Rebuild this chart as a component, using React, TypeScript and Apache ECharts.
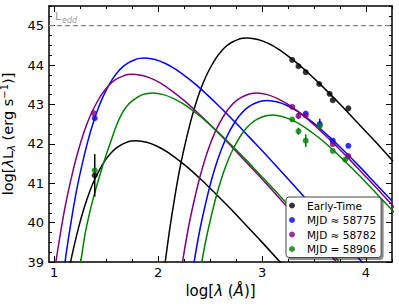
import React, { useEffect, useRef } from "react";
import * as echarts from "echarts";

// ---- axes ----
const X_MIN = 0.95;
const X_MAX = 4.25;
const Y_MIN = 39;
const Y_MAX = 45.5;
const X_MAJOR = [1, 2, 3, 4];
const X_MINOR = [1.25, 1.5, 1.75, 2.25, 2.5, 2.75, 3.25, 3.5, 3.75, 4.25];
const Y_MAJOR = [39, 40, 41, 42, 43, 44, 45];
const Y_MINOR = [39.25, 39.5, 39.75, 40.25, 40.5, 40.75, 41.25, 41.5, 41.75, 42.25, 42.5, 42.75, 43.25, 43.5, 43.75, 44.25, 44.5, 44.75, 45.25, 45.5];

// Eddington luminosity (log)
const L_EDD = 45;

// ---- legend names ----
const NAMES = ["Early-Time", "MJD \u2248 58775", "MJD \u2248 58782", "MJD = 58906"];
const COLORS = ["#000000", "#0000ff", "#800080", "#008000"];

// ---- observed points [log lambda, log lambda L] ----
const EARLY_PTS = [[1.39, 41.2], [3.29, 44.13], [3.35, 43.97], [3.42, 43.82], [3.55, 43.52], [3.65, 43.27], [3.68, 43.11], [3.83, 42.9]];
const BLUE_PTS = [[1.39, 42.65], [3.42, 42.77], [3.555, 42.5], [3.68, 42.08], [3.83, 41.95]];
const PURPLE_PTS = [[1.38, 42.78], [3.29, 42.94], [3.35, 42.71], [3.42, 42.72], [3.68, 41.99], [3.83, 41.69]];
const GREEN_PTS = [[1.39, 41.33], [3.29, 42.62], [3.35, 42.32], [3.42, 42.08], [3.555, 42.45], [3.68, 41.82], [3.8, 41.6]];

// ---- error bars [x, y, err] ----
const EARLY_ERR = [[1.39, 41.2, 0.54]];
const BLUE_ERR = [[3.555, 42.5, 0.14]];
const PURPLE_ERR = [[3.35, 42.71, 0.07]];
const GREEN_ERR = [[3.35, 42.32, 0.09], [3.42, 42.08, 0.16], [3.555, 42.45, 0.1], [3.8, 41.6, 0.06]];

// ---- model curves ----
const BLACK_HOT = [[1.09, 38.04], [1.14, 38.78], [1.19, 39.39], [1.24, 39.93], [1.29, 40.39], [1.34, 40.78], [1.39, 41.1], [1.44, 41.36], [1.49, 41.58], [1.54, 41.75], [1.59, 41.88], [1.64, 41.97], [1.69, 42.03], [1.74, 42.07], [1.79, 42.08], [1.89, 42.04], [1.99, 41.94], [2.09, 41.79], [2.19, 41.6], [2.29, 41.39], [2.39, 41.15], [2.49, 40.9], [2.59, 40.64], [2.69, 40.37], [2.79, 40.09], [2.99, 39.53], [3.19, 38.95]];
const BLACK_COOL = [[2.06, 38.84], [2.11, 39.81], [2.16, 40.65], [2.21, 41.39], [2.26, 42.0], [2.31, 42.54], [2.36, 43.0], [2.41, 43.39], [2.46, 43.71], [2.51, 43.97], [2.56, 44.19], [2.61, 44.36], [2.66, 44.49], [2.71, 44.58], [2.76, 44.64], [2.81, 44.68], [2.86, 44.69], [2.96, 44.65], [3.06, 44.55], [3.16, 44.4], [3.26, 44.21], [3.36, 44.0], [3.46, 43.76], [3.56, 43.51], [3.66, 43.25], [3.76, 42.98], [3.86, 42.7], [4.06, 42.14], [4.26, 41.56]];
const BLUE_HOT = [[1.07, 38.33], [1.12, 39.3], [1.17, 40.14], [1.22, 40.88], [1.27, 41.49], [1.32, 42.03], [1.37, 42.49], [1.42, 42.88], [1.47, 43.2], [1.52, 43.46], [1.57, 43.68], [1.62, 43.85], [1.67, 43.98], [1.72, 44.07], [1.77, 44.13], [1.82, 44.17], [1.87, 44.18], [1.97, 44.14], [2.07, 44.04], [2.17, 43.89], [2.27, 43.7], [2.37, 43.49], [2.47, 43.25], [2.57, 43.0], [2.67, 42.74], [2.77, 42.47], [2.87, 42.19], [3.07, 41.63], [3.27, 41.05], [3.47, 40.46], [3.67, 39.87], [3.87, 39.27], [4.07, 38.68]];
const BLUE_COOL = [[2.3, 38.22], [2.35, 39.06], [2.4, 39.8], [2.45, 40.41], [2.5, 40.95], [2.55, 41.41], [2.6, 41.8], [2.65, 42.12], [2.7, 42.38], [2.75, 42.6], [2.8, 42.77], [2.85, 42.9], [2.9, 42.99], [2.95, 43.05], [3.0, 43.09], [3.05, 43.1], [3.15, 43.06], [3.25, 42.96], [3.35, 42.81], [3.45, 42.62], [3.55, 42.41], [3.65, 42.17], [3.75, 41.92], [3.85, 41.66], [3.95, 41.39], [4.05, 41.11], [4.25, 40.55]];
const PURPLE_HOT = [[0.96, 37.92], [1.01, 38.89], [1.06, 39.73], [1.11, 40.47], [1.16, 41.08], [1.21, 41.62], [1.26, 42.08], [1.31, 42.47], [1.36, 42.79], [1.41, 43.05], [1.46, 43.27], [1.51, 43.44], [1.56, 43.57], [1.61, 43.66], [1.66, 43.72], [1.71, 43.76], [1.76, 43.77], [1.86, 43.73], [1.96, 43.63], [2.06, 43.48], [2.16, 43.29], [2.26, 43.08], [2.36, 42.84], [2.46, 42.59], [2.56, 42.33], [2.66, 42.06], [2.76, 41.78], [2.96, 41.22], [3.16, 40.64], [3.36, 40.05], [3.56, 39.46], [3.76, 38.87]];
const PURPLE_COOL = [[2.2, 38.41], [2.25, 39.25], [2.3, 39.99], [2.35, 40.6], [2.4, 41.14], [2.45, 41.6], [2.5, 41.99], [2.55, 42.31], [2.6, 42.57], [2.65, 42.79], [2.7, 42.96], [2.75, 43.09], [2.8, 43.18], [2.85, 43.24], [2.9, 43.28], [2.95, 43.29], [3.05, 43.25], [3.15, 43.15], [3.25, 43.0], [3.35, 42.81], [3.45, 42.6], [3.55, 42.36], [3.65, 42.11], [3.75, 41.85], [3.85, 41.58], [3.95, 41.3], [4.15, 40.74], [4.35, 40.16]];
const GREEN_HOT = [[1.22, 38.4], [1.255, 39.0], [1.3, 39.75], [1.35, 40.35], [1.4, 40.85], [1.45, 41.3], [1.5, 41.72], [1.55, 42.1], [1.6, 42.47], [1.65, 42.76], [1.7, 42.96], [1.75, 43.09], [1.8, 43.18], [1.85, 43.25], [1.9, 43.28], [1.95, 43.29], [2.05, 43.25], [2.15, 43.15], [2.25, 43.0], [2.35, 42.81], [2.45, 42.6], [2.55, 42.36], [2.65, 42.11], [2.75, 41.85], [2.85, 41.58], [2.95, 41.3], [3.15, 40.74], [3.35, 40.16], [3.55, 39.57], [3.75, 38.98]];
const GREEN_COOL = [[2.35, 37.85], [2.4, 38.69], [2.45, 39.43], [2.5, 40.04], [2.55, 40.58], [2.6, 41.04], [2.65, 41.43], [2.7, 41.75], [2.75, 42.01], [2.8, 42.23], [2.85, 42.4], [2.9, 42.53], [2.95, 42.62], [3.0, 42.68], [3.05, 42.72], [3.1, 42.73], [3.2, 42.69], [3.3, 42.59], [3.4, 42.44], [3.5, 42.25], [3.6, 42.04], [3.7, 41.8], [3.8, 41.55], [3.9, 41.29], [4.0, 41.02], [4.1, 40.74], [4.3, 40.18]];

const FONT = "DejaVu Sans";

function curve(name: string, data: number[][], color: string) {
  return {
    type: "line",
    name,
    data,
    smooth: 0.3,
    showSymbol: false,
    symbol: "none",
    clip: true,
    lineStyle: { color, width: 1.5 },
    z: 2,
    silent: true,
  };
}

function points(name: string, data: number[][], color: string) {
  return {
    type: "scatter",
    name,
    data,
    symbol: "circle",
    symbolSize: 6,
    itemStyle: { color },
    z: 5,
  };
}

function errors(name: string, data: number[][], color: string) {
  return {
    type: "custom",
    name,
    data,
    encode: { x: 0, y: 1 },
    z: 4,
    renderItem: (_p: any, api: any) => {
      const x = api.value(0);
      const y = api.value(1);
      const e = api.value(2);
      const a = api.coord([x, y - e]);
      const b = api.coord([x, y + e]);
      return {
        type: "line",
        shape: { x1: a[0], y1: a[1], x2: b[0], y2: b[1] },
        style: { stroke: color, lineWidth: 1.5 },
      };
    },
  };
}

function xAxisDef(position: string, ticks: number[], len: number, labels: boolean, line: boolean, extra: any = {}) {
  return {
    type: "value",
    position,
    min: X_MIN,
    max: X_MAX,
    splitLine: { show: false },
    axisLine: { show: line, onZero: false, lineStyle: { color: "#000", width: 1.5 } },
    axisTick: { show: true, inside: true, length: len, customValues: ticks, lineStyle: { color: "#000", width: 1 } },
    axisLabel: labels
      ? { show: true, customValues: ticks, margin: 4, color: "#000", fontSize: 13, fontFamily: FONT }
      : { show: false },
    ...extra,
  };
}

function yAxisDef(position: string, ticks: number[], len: number, labels: boolean, line: boolean, extra: any = {}) {
  return {
    type: "value",
    position,
    min: Y_MIN,
    max: Y_MAX,
    splitLine: { show: false },
    axisLine: { show: line, onZero: false, lineStyle: { color: "#000", width: 1.5 } },
    axisTick: { show: true, inside: true, length: len, customValues: ticks, lineStyle: { color: "#000", width: 1 } },
    axisLabel: labels
      ? { show: true, customValues: ticks, margin: 5, color: "#000", fontSize: 13, fontFamily: FONT }
      : { show: false },
    ...extra,
  };
}

export default function App() {
  const ref = useRef<HTMLDivElement>(null);
  useEffect(() => {
    if (!ref.current) return;
    const chart = echarts.init(ref.current, undefined, { renderer: "svg" });
    const option: any = {
      animation: false,
      backgroundColor: "#fff",
      grid: { left: 49, right: 7, top: 6, bottom: 45, containLabel: false, outerBoundsMode: "none" },
      xAxis: [
        xAxisDef("bottom", X_MAJOR, 6, true, true, {
          name: "{n|log[}{i|\u03bb}{n| (}{i|\u00c5}{n|)]}",
          nameLocation: "middle",
          nameGap: 14,
          nameTextStyle: {
            rich: {
              n: { fontSize: 15, fontFamily: FONT, color: "#000" },
              i: { fontSize: 15, fontFamily: FONT, fontStyle: "italic", color: "#000" },
            },
          },
        }),
        xAxisDef("bottom", X_MINOR, 3, false, false),
        xAxisDef("top", X_MAJOR, 6, false, true),
        xAxisDef("top", X_MINOR, 3, false, false),
      ],
      yAxis: [
        yAxisDef("left", Y_MAJOR, 6, true, true, {
          name: "{n|log[}{i|\u03bb}{n|L}{s|\u03bb}{n| (erg s}{p|\u22121}{n|)]}",
          nameLocation: "middle",
          nameGap: 22,
          nameRotate: 90,
          nameTextStyle: {
            rich: {
              n: { fontSize: 14.5, fontFamily: FONT, color: "#000", lineHeight: 17 },
              i: { fontSize: 14.5, fontFamily: FONT, fontStyle: "italic", color: "#000", lineHeight: 17 },
              s: { fontSize: 10, fontFamily: FONT, fontStyle: "italic", color: "#000", lineHeight: 10, verticalAlign: "bottom" },
              p: { fontSize: 10, fontFamily: FONT, color: "#000", lineHeight: 10, verticalAlign: "top" },
            },
          },
        }),
        yAxisDef("left", Y_MINOR, 3, false, false),
        yAxisDef("right", Y_MAJOR, 6, false, true),
        yAxisDef("right", Y_MINOR, 3, false, false),
      ],
      legend: {
        show: true,
        data: NAMES,
        orient: "vertical",
        left: 286,
        top: 197,
        icon: "circle",
        itemWidth: 20,
        itemHeight: 6,
        itemGap: 1.5,
        padding: [2, 5, 2, 3],
        backgroundColor: "#fff",
        borderColor: "#444",
        borderWidth: 1,
        borderRadius: 3,
        shadowColor: "rgba(0,0,0,0.45)",
        shadowOffsetX: 2,
        shadowOffsetY: 2,
        shadowBlur: 0,
        textStyle: { fontSize: 10.5, fontFamily: FONT, color: "#000", lineHeight: 13 },
        selectedMode: false,
        z: 10,
      },
      graphic: [
        { type: "text", left: 55, top: 11, z: 20, style: { text: "L", fontSize: 11, fontFamily: FONT, fill: "#999" } },
        { type: "text", left: 62, top: 16, z: 20, style: { text: "edd", fontSize: 8, fontStyle: "italic", fontFamily: FONT, fill: "#999" } },
      ],
      series: [
        {
          type: "line",
          name: "Ledd",
          data: [[X_MIN, L_EDD], [X_MAX, L_EDD]],
          showSymbol: false,
          symbol: "none",
          lineStyle: { color: "#888", width: 1.3, type: [5, 3] },
          z: 1,
          silent: true,
        },
        curve("bh-black", BLACK_HOT, COLORS[0]),
        curve("bc-black", BLACK_COOL, COLORS[0]),
        curve("bh-blue", BLUE_HOT, COLORS[1]),
        curve("bc-blue", BLUE_COOL, COLORS[1]),
        curve("bh-purple", PURPLE_HOT, COLORS[2]),
        curve("bc-purple", PURPLE_COOL, COLORS[2]),
        curve("bh-green", GREEN_HOT, COLORS[3]),
        curve("bc-green", GREEN_COOL, COLORS[3]),
        errors("e-black", EARLY_ERR, COLORS[0]),
        points(NAMES[0], EARLY_PTS, COLORS[0]),
        errors("e-blue", BLUE_ERR, COLORS[1]),
        points(NAMES[1], BLUE_PTS, COLORS[1]),
        errors("e-purple", PURPLE_ERR, COLORS[2]),
        points(NAMES[2], PURPLE_PTS, COLORS[2]),
        errors("e-green", GREEN_ERR, COLORS[3]),
        points(NAMES[3], GREEN_PTS, COLORS[3]),
      ],
    };
    chart.setOption(option);
    return () => chart.dispose();
  }, []);
  return <div ref={ref} style={{ position: "absolute", left: 0, top: 0, width: 399, height: 307 }} />;
}
